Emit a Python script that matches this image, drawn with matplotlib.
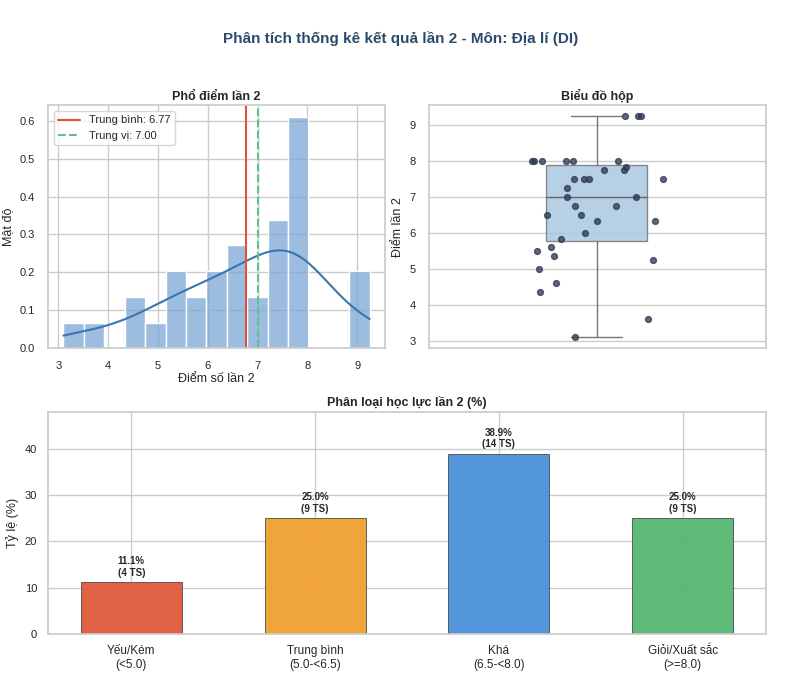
import numpy as np
import matplotlib.pyplot as plt
import seaborn as sns

sns.set_theme(style="whitegrid")
plt.rcParams['font.family'] = ['Liberation Sans', 'DejaVu Sans']

# diem va vi tri jitter (doc tu hinh)
diem = [9.25, 9.25, 9.25, 8, 8, 8, 8, 8, 8, 7.85, 7.75, 7.75, 7.5, 7.5, 7.5, 7.5,
        7.25, 7, 7, 6.75, 6.75, 6.5, 6.5, 6.35, 6.35, 6, 5.85, 5.6, 5.5, 5.35,
        5.25, 5, 4.6, 4.35, 3.6, 3.1]
xpix = [708, 748, 757, 430, 436, 459, 530, 551, 686, 710, 645, 706, 554, 585, 601, 821,
        533, 533, 740, 558, 682, 473, 576, 625, 798, 587, 515, 485, 444, 494,
        791, 450, 502, 453, 776, 559]
jitter = [(p - 623) / 152 * 0.3 for p in xpix]
diem = np.array(diem)
tb = diem.mean()
tv = np.median(diem)

fig = plt.figure(figsize=(8.02, 6.98), dpi=100)
fig.suptitle("Phân tích thống kê kết quả lần 2 - Môn: Địa lí (DI)", fontsize=11,
             fontweight='bold', color='#2e4a6b', y=0.955)

ax1 = fig.add_axes([0.06, 0.501, 0.42, 0.348])
sns.histplot(diem, bins=15, stat='density', kde=True, color='#7ba7d6', alpha=0.75,
             edgecolor='white', ax=ax1)
ax1.lines[0].set_color('#3a75b0')
ax1.axvline(tb, color='#e0533a', lw=1.5, label=f"Trung bình: {tb:.2f}")
ax1.axvline(tv, color='#5cc48a', lw=1.5, ls='--', label=f"Trung vị: {tv:.2f}")
ax1.set_title("Phổ điểm lần 2", fontsize=9, fontweight='bold', pad=4)
ax1.set_xlabel("Điểm số lần 2", fontsize=9, labelpad=1)
ax1.set_ylabel("Mật độ", fontsize=9)
ax1.tick_params(labelsize=8)
ax1.legend(fontsize=8, loc='upper left')

ax2 = fig.add_axes([0.535, 0.501, 0.42, 0.348])
ax2.boxplot(diem, positions=[0], widths=0.6, patch_artist=True,
            boxprops=dict(facecolor='#a9c9e2', edgecolor='#777777', alpha=0.85),
            medianprops=dict(color='#666666'), whiskerprops=dict(color='#777777'),
            capprops=dict(color='#777777'), capwidths=0.3, flierprops=dict(marker=''))
ax2.scatter(jitter, diem, color='#2c3550', alpha=0.75, s=18, zorder=3)
ax2.set_xlim(-0.99, 1.0)
ax2.set_xticks([])
ax2.set_title("Biểu đồ hộp", fontsize=9, fontweight='bold', pad=4)
ax2.set_ylabel("Điểm lần 2", fontsize=9)
ax2.tick_params(labelsize=8)

ax3 = fig.add_axes([0.06, 0.092, 0.895, 0.318])
nhom = ["Yếu/Kém\n(<5.0)", "Trung bình\n(5.0-<6.5)", "Khá\n(6.5-<8.0)", "Giỏi/Xuất sắc\n(>=8.0)"]
so_ts = [4, 9, 14, 9]
ty_le = [s / 36 * 100 for s in so_ts]
mau = ['#e05a3a', '#f0a030', '#4a90d9', '#55b870']
bars = ax3.bar(nhom, ty_le, width=0.55, color=mau, edgecolor='#444444', lw=0.6, alpha=0.95)
for b, t, s in zip(bars, ty_le, so_ts):
    ax3.text(b.get_x() + b.get_width() / 2, t + 1, f"{t:.1f}%\n({s} TS)", ha='center',
             va='bottom', fontsize=7, fontweight='bold')
ax3.set_ylim(0, 48)
ax3.set_title("Phân loại học lực lần 2 (%)", fontsize=9, fontweight='bold', pad=4)
ax3.set_ylabel("Tỷ lệ (%)", fontsize=9)
ax3.tick_params(axis='y', labelsize=8, pad=2)
ax3.tick_params(axis='x', labelsize=8.5, pad=2)

for ax in (ax1, ax2, ax3):
    for s in ax.spines.values():
        s.set_color('#cccccc')

plt.savefig("out.png", dpi=100)
